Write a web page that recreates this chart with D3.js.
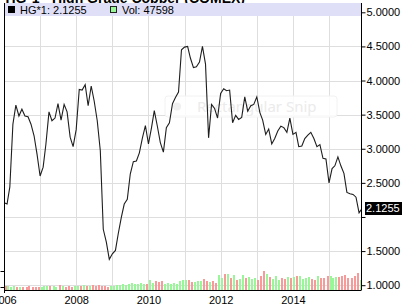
<!DOCTYPE html>
<html>
<head>
<meta charset="utf-8">
<script src="https://cdn.jsdelivr.net/npm/d3@7"></script>
<style>
  body { margin: 0; background: #fff; }
  svg { display: block; font-family: "Liberation Sans", Arial, sans-serif; }
</style>
</head>
<body>
<div id="chart"></div>
<script>
// monthly closes, Jan 2006 .. Dec 2015
const closes = [
  2.21, 2.19, 2.44, 3.36, 3.64, 3.48, 3.58, 3.48, 3.47, 3.36, 3.19, 2.92,
  2.60, 2.73, 3.07, 3.54, 3.41, 3.45, 3.66, 3.42, 3.65, 3.54, 3.17, 3.03,
  3.28, 3.87, 3.86, 3.94, 3.63, 3.92, 3.70, 3.41, 2.97, 1.82, 1.63, 1.38,
  1.46, 1.51, 1.75, 1.99, 2.19, 2.26, 2.63, 2.81, 2.82, 2.94, 3.16, 3.34,
  3.07, 3.31, 3.56, 3.33, 3.09, 2.95, 3.31, 3.38, 3.66, 3.75, 3.83, 4.45,
  4.49, 4.50, 4.33, 4.19, 4.20, 4.27, 4.50, 4.24, 3.16, 3.65, 3.59, 3.45,
  3.81, 3.88, 3.85, 3.86, 3.38, 3.49, 3.43, 3.46, 3.76, 3.55, 3.63, 3.65,
  3.76, 3.53, 3.42, 3.21, 3.29, 3.07, 3.15, 3.26, 3.33, 3.31, 3.24, 3.45,
  3.21, 3.24, 3.03, 3.04, 3.15, 3.20, 3.24, 3.15, 3.03, 3.06, 2.86, 2.85,
  2.50, 2.71, 2.75, 2.88, 2.75, 2.64, 2.36, 2.34, 2.33, 2.29, 2.06, 2.1255
];

// monthly volume, thousand contracts
const volumes = [
  210, 180, 220, 160, 190, 150, 150, 160, 150, 190, 160, 140,
  160, 170, 210, 180, 200, 180, 170, 230, 200, 170, 190, 170,
  200, 220, 190, 240, 200, 210, 230, 200, 240, 210, 190, 150,
  200, 210, 240, 230, 290, 250, 320, 340, 280, 300, 350, 300,
  320, 500, 360, 460, 420, 450, 310, 360, 280, 370, 290, 470,
  480, 520, 480, 400, 420, 430, 460, 560, 460, 420, 430, 340,
  760, 600, 800, 780, 620, 770, 520, 560, 760, 600, 640, 540,
  600, 500, 720, 950, 780, 660, 560, 700, 500, 580, 540, 640,
  620, 640, 700, 720, 560, 620, 660, 560, 520, 680, 620, 600,
  680, 700, 620, 660, 640, 700, 740, 620, 600, 700, 860, 520
];

const priceTicks = [1.0, 1.5, 2.0, 2.5, 3.0, 3.5, 4.0, 4.5, 5.0];
const gridYears = [2007, 2008, 2009, 2010, 2011, 2012, 2013, 2014, 2015];
const labelYears = [2006, 2008, 2010, 2012, 2014];
const volTicks = [150, 950];
const lastPrice = 2.1255;
const lastVolume = 47598;
const symbol = "HG*1";
const titleText = "HG*1 - High Grade Copper (COMEX)";

const width = 403, height = 308;
const plotLeft = 4.5, plotRight = 361.5, plotTop = 3, plotBottom = 290;

const svg = d3.select('#chart')
  .append('svg')
    .attr('width', width)
    .attr('height', height);

const months = d3.timeMonth.range(new Date(2006, 0, 1), new Date(2016, 0, 1));
const data = months.map((m, i) => ({
  date: m,
  close: closes[i],
  volume: volumes[i],
  up: i === 0 ? true : closes[i] >= closes[i - 1]
}));

const x = d3.scaleTime()
  .domain([new Date(2006, 0, 1), new Date(2016, 0, 1)])
  .range([4, 365.1]);
const y = d3.scaleLinear()
  .domain([1, 5])
  .range([285.2, 12.3]);
const yVol = d3.scaleLinear()
  .domain([0, 1100])
  .range([plotBottom, 268]);

svg.append('clipPath')
    .attr('id', 'plot-clip')
  .append('rect')
    .attr('x', plotLeft + 0.5)
    .attr('y', plotTop)
    .attr('width', plotRight - plotLeft - 1)
    .attr('height', plotBottom - plotTop);

// title, mostly cut off at the top edge
svg.append('text')
  .attr('x', 245).attr('y', 2.5)
  .attr('text-anchor', 'end')
  .style('font-size', '14px')
  .style('font-weight', 'bold')
  .text(titleText);

// gridlines
const grid = svg.append('g')
  .attr('stroke', '#dedede')
  .attr('shape-rendering', 'crispEdges');
grid.selectAll('.vgrid')
  .data(gridYears)
  .join('line')
    .attr('x1', d => Math.round(x(new Date(d, 0, 1))) + 0.5)
    .attr('x2', d => Math.round(x(new Date(d, 0, 1))) + 0.5)
    .attr('y1', plotTop)
    .attr('y2', plotBottom);
grid.selectAll('.hgrid')
  .data(priceTicks.filter(d => d < 5))
  .join('line')
    .attr('x1', plotLeft)
    .attr('x2', plotRight)
    .attr('y1', d => Math.round(y(d)) + 0.5)
    .attr('y2', d => Math.round(y(d)) + 0.5);

// faint snipping-tool overlay
const snip = svg.append('g');
snip.append('rect')
  .attr('x', 165).attr('y', 96)
  .attr('width', 172).attr('height', 21)
  .attr('rx', 3)
  .attr('fill', '#fff')
  .attr('fill-opacity', 0.85)
  .attr('stroke', '#f2f2f2');
snip.append('circle')
  .attr('cx', 177).attr('cy', 106.5).attr('r', 4)
  .attr('fill', '#efefef');
snip.append('text')
  .attr('x', 197).attr('y', 112)
  .style('font-family', '"Noto Sans", "Open Sans", sans-serif')
  .style('font-size', '15px')
  .attr('fill', '#ebebeb')
  .text('Rectangular Snip');

// volume bars
svg.append('g')
    .attr('clip-path', 'url(#plot-clip)')
    .attr('shape-rendering', 'crispEdges')
  .selectAll('rect')
  .data(data)
  .join('rect')
    .attr('x', d => Math.round(x(d.date) - 2.5))
    .attr('width', 2)
    .attr('y', d => Math.round(yVol(d.volume)))
    .attr('height', d => plotBottom - Math.round(yVol(d.volume)))
    .attr('fill', d => d.up ? '#99f799' : '#f89a9a');

// price line
const line = d3.line()
  .x(d => x(d.date))
  .y(d => y(d.close));
svg.append('path')
  .datum(data)
  .attr('clip-path', 'url(#plot-clip)')
  .attr('d', line)
  .attr('fill', 'none')
  .attr('stroke', '#1e1e1e')
  .attr('stroke-width', 1.1);

// legend band (covers the lower part of the title)
svg.append('rect')
  .attr('x', 5).attr('y', plotTop)
  .attr('width', 356).attr('height', 13)
  .attr('fill', '#dfdff8');

const legend = svg.append('g').style('font-size', '11px');
legend.append('rect')
  .attr('x', 8.5).attr('y', 6.5).attr('width', 6).attr('height', 6)
  .attr('fill', '#000').attr('stroke', '#000');
legend.append('text')
  .attr('x', 20).attr('y', 13.5)
  .text(`${symbol}: ${lastPrice.toFixed(4)}`);
legend.append('rect')
  .attr('x', 110.5).attr('y', 6.5).attr('width', 6).attr('height', 6)
  .attr('fill', '#99f799').attr('stroke', '#222');
legend.append('text')
  .attr('x', 122).attr('y', 13.5)
  .text(`Vol: ${lastVolume}`);

// frame lines
svg.append('line')
  .attr('x1', plotLeft).attr('x2', plotLeft)
  .attr('y1', plotTop).attr('y2', plotBottom + 3)
  .attr('stroke', '#000');
svg.append('line')
  .attr('x1', plotRight).attr('x2', plotRight)
  .attr('y1', plotTop).attr('y2', plotBottom)
  .attr('stroke', '#000');
svg.append('line')
  .attr('x1', plotLeft).attr('x2', plotRight)
  .attr('y1', plotBottom + 0.5).attr('y2', plotBottom + 0.5)
  .attr('stroke', '#000');

// right price axis
const rightAxis = svg.append('g')
  .attr('transform', `translate(${plotRight},0)`)
  .call(d3.axisRight(y)
    .tickValues(priceTicks)
    .tickSize(4)
    .tickPadding(1)
    .tickFormat(d3.format('.4f')));
rightAxis.select('.domain').remove();
rightAxis.selectAll('text')
  .style('font-size', '11px')
  .style('font-family', '"Liberation Sans", Arial, sans-serif')
  .attr('fill', '#000')
  .filter(d => d === 2.0).remove();

// last price marker
const lastY = y(lastPrice);
svg.append('rect')
  .attr('x', 365).attr('y', Math.round(lastY - 6.5))
  .attr('width', 37).attr('height', 13)
  .attr('fill', '#000');
svg.append('text')
  .attr('x', 366).attr('y', lastY)
  .attr('dy', '0.35em')
  .attr('fill', '#fff')
  .style('font-size', '11px')
  .text(lastPrice.toFixed(4));

// left volume axis ticks (its labels sit outside the view)
const leftAxis = svg.append('g')
  .attr('transform', `translate(${plotLeft},0)`)
  .call(d3.axisLeft(yVol).tickValues(volTicks).tickSize(4));
leftAxis.select('.domain').remove();
leftAxis.selectAll('text').remove();

// bottom year labels
const bottomAxis = svg.append('g')
  .attr('transform', `translate(0,${plotBottom})`)
  .call(d3.axisBottom(x)
    .tickValues(labelYears.map(yr => new Date(yr, 0, 1)))
    .tickSize(0)
    .tickPadding(6)
    .tickFormat(d3.timeFormat('%Y')));
bottomAxis.select('.domain').remove();
bottomAxis.selectAll('text')
  .style('font-size', '11px')
  .style('font-family', '"Liberation Sans", Arial, sans-serif')
  .attr('fill', '#000');
</script>
</body>
</html>
